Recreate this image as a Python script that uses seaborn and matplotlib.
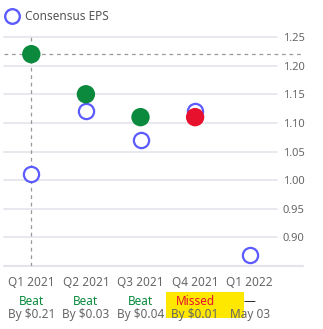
import matplotlib
matplotlib.use("Agg")
import matplotlib.pyplot as plt
import seaborn as sns
import pandas as pd
from matplotlib.patches import Rectangle

quarters = ["Q1 2021", "Q2 2021", "Q3 2021", "Q4 2021", "Q1 2022"]
consensus = [1.01, 1.12, 1.07, 1.12, 0.87]
actual = [1.22, 1.15, 1.11, 1.11, None]
status = ["Beat", "Beat", "Beat", "Missed", "—"]
detail = ["By $0.21", "By $0.03", "By $0.04", "By $0.01", "May 03"]
y_ticks = [0.90, 0.95, 1.00, 1.05, 1.10, 1.15, 1.20, 1.25]

GREEN = "#0b8a3e"
RED = "#e8112d"
BLUE = "#5b5bff"
GRID = "#e4e4ec"
TEXT = "#666666"

sns.set_theme(style="white")
plt.rcParams["font.family"] = ["Noto Sans", "DejaVu Sans"]

fig = plt.figure(figsize=(3.23, 3.29), dpi=100)
ax = fig.add_axes([4 / 323, (329 - 266) / 329, 273 / 323, (266 - 37) / 329])

df_cons = pd.DataFrame({"x": range(len(quarters)), "eps": consensus})
df_act = pd.DataFrame({"x": range(len(quarters)), "eps": actual,
                       "status": status}).dropna()
act_colors = [GREEN if s == "Beat" else RED for s in df_act["status"]]

ax.set_xlim(-0.5, len(quarters) - 0.5)
ax.set_ylim(0.85, 1.25)

for t in y_ticks:
    ax.axhline(t, color=GRID, lw=1.2, zorder=0, clip_on=False)

# crosshair on the first quarter
ax.axvline(0, color="#999999", lw=0.9, ls=(0, (3, 3)), zorder=1)
ax.plot([0, 1.095], [actual[0], actual[0]], transform=ax.get_yaxis_transform(),
        color="#999999", lw=0.9, ls=(0, (3, 3)), clip_on=False, zorder=1)

# baseline
ax.plot([0, 1.095], [0.85, 0.85], transform=ax.get_yaxis_transform(),
        color=GRID, lw=1.5, clip_on=False, zorder=0)

sns.scatterplot(data=df_cons, x="x", y="eps", ax=ax, s=120, facecolor="white",
                edgecolor=BLUE, linewidth=1.6, zorder=3, legend=False, clip_on=False)
sns.scatterplot(data=df_act, x="x", y="eps", ax=ax, s=175, color=act_colors,
                edgecolor="none", linewidth=0, zorder=4, legend=False, clip_on=False)

for s in ax.spines.values():
    s.set_visible(False)
ax.set_xlabel("")
ax.set_ylabel("")
ax.set_xticks([])
ax.yaxis.tick_right()
ax.set_yticks(y_ticks)
ax.set_yticklabels([f"{t:.2f}" for t in y_ticks])
ax.tick_params(axis="y", length=0, pad=4, labelsize=8, labelcolor=TEXT)

# quarter labels and results below the plot
xt = ax.get_xaxis_transform()
for i, q in enumerate(quarters):
    ax.text(i, -0.07, q, transform=xt, ha="center", va="center",
            fontsize=8.5, color=TEXT)
    if status[i] == "Missed":
        ax.add_patch(Rectangle((i - 0.53, -0.225), 1.42, 0.112, transform=xt,
                               facecolor="#ffe800", edgecolor="none",
                               clip_on=False, zorder=0))
    col = GREEN if status[i] == "Beat" else (RED if status[i] == "Missed" else "#222222")
    ax.text(i, -0.155, status[i], transform=xt, ha="center", va="center",
            fontsize=8.5, color=col,
            fontweight="bold" if status[i] == "Beat" else "normal", zorder=2)
    ax.text(i, -0.212, detail[i], transform=xt, ha="center", va="center",
            fontsize=8.5, color=TEXT, zorder=2)

# legend
fig.text(25 / 323, 1 - 16 / 329, "Consensus EPS", ha="left", va="center",
         fontsize=8.5, color="#555555")
fig.add_artist(plt.Line2D([12 / 323], [1 - 16 / 329], marker="o", markersize=10.5,
                          markerfacecolor="white", markeredgecolor=BLUE,
                          markeredgewidth=1.7, transform=fig.transFigure))

fig.savefig("out.png", dpi=100)
